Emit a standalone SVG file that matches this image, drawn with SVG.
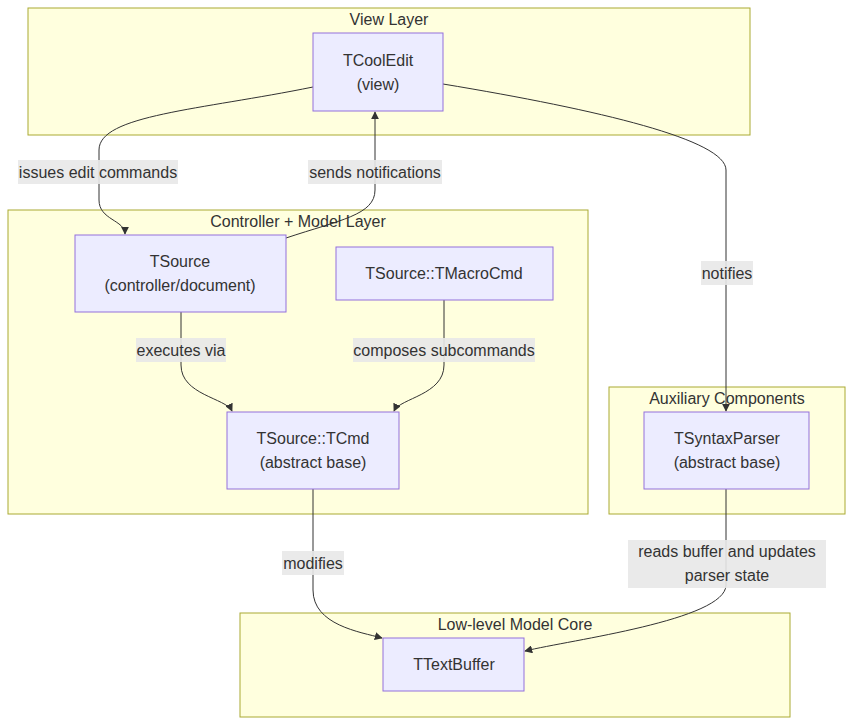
<svg xmlns="http://www.w3.org/2000/svg" width="853" height="725" viewBox="0 0 853 725">
<defs>
<marker id="arr" viewBox="0 0 10 10" refX="9" refY="5" markerWidth="8" markerHeight="8" orient="auto"><path d="M0,0 L10,5 L0,10 z" fill="#333"/></marker>
<style>
.cl{fill:#ffffde;stroke:#aaaa33;stroke-width:1}
.nd{fill:#ececff;stroke:#9370db;stroke-width:1}
text{font-family:"Liberation Sans",Arial,sans-serif;font-size:16px;fill:#333;text-anchor:middle}
.e{fill:none;stroke:#333;stroke-width:1;marker-end:url(#arr)}
.lb{fill:#e8e8e8;opacity:0.9}
</style>
</defs>
<rect width="853" height="725" fill="#fff"/>
<g id="clusters">
<rect class="cl" x="28" y="8" width="722" height="127"/><text x="389" y="25">View Layer</text>
<rect class="cl" x="8" y="210" width="580" height="304"/><text x="298" y="227">Controller + Model Layer</text>
<rect class="cl" x="609" y="387" width="236" height="127"/><text x="727" y="404">Auxiliary Components</text>
<rect class="cl" x="240" y="613" width="550" height="104"/><text x="515" y="630">Low-level Model Core</text>
</g>
<g id="connectors">
<path class="e" d="M313,87 C200,110 99,115 99,150 L99,200 C99,220 125,220 125,234"/>
<path class="e" d="M286,238 C340,220 375,215 375,190 L375,112"/>
<path class="e" d="M443,84 C600,110 726,140 726,170 L726,411"/>
<path class="e" d="M181,312 L181,365 C181,395 226,398 232,411"/>
<path class="e" d="M444,300 L444,365 C444,395 400,398 394,411"/>
<path class="e" d="M313,489 L313,590 C313,625 360,632 382,638"/>
<path class="e" d="M726,489 L726,585 C726,620 570,640 525,651"/>
</g>
<g id="labels">
<rect class="lb" x="18" y="160" width="160" height="24"/><text x="98" y="178">issues edit commands</text>
<rect class="lb" x="308" y="160" width="134" height="24"/><text x="375" y="178">sends notifications</text>
<rect class="lb" x="701" y="261" width="52" height="24"/><text x="727" y="279">notifies</text>
<rect class="lb" x="136" y="338" width="90" height="24"/><text x="181" y="356">executes via</text>
<rect class="lb" x="353" y="338" width="182" height="24"/><text x="444" y="356">composes subcommands</text>
<rect class="lb" x="282" y="551" width="62" height="24"/><text x="313" y="569">modifies</text>
<rect class="lb" x="628" y="540" width="198" height="48"/><text x="727" y="557">reads buffer and updates</text><text x="727" y="581">parser state</text>
</g>
<g id="TCoolEdit"><rect class="nd" x="313" y="33" width="130" height="78"/><text x="378" y="66">TCoolEdit</text><text x="378" y="90">(view)</text></g>
<g id="TSource"><rect class="nd" x="75" y="235" width="211" height="77"/><text x="180" y="267">TSource</text><text x="180" y="291">(controller/document)</text></g>
<g id="TMacroCmd"><rect class="nd" x="336" y="247" width="217" height="53"/><text x="444" y="279">TSource::TMacroCmd</text></g>
<g id="TCmd"><rect class="nd" x="227" y="412" width="172" height="77"/><text x="313" y="444">TSource::TCmd</text><text x="313" y="468">(abstract base)</text></g>
<g id="TSyntaxParser"><rect class="nd" x="644" y="412" width="165" height="77"/><text x="727" y="444">TSyntaxParser</text><text x="727" y="468">(abstract base)</text></g>
<g id="TTextBuffer"><rect class="nd" x="383" y="638" width="141" height="53"/><text x="454" y="670">TTextBuffer</text></g>
</svg>
